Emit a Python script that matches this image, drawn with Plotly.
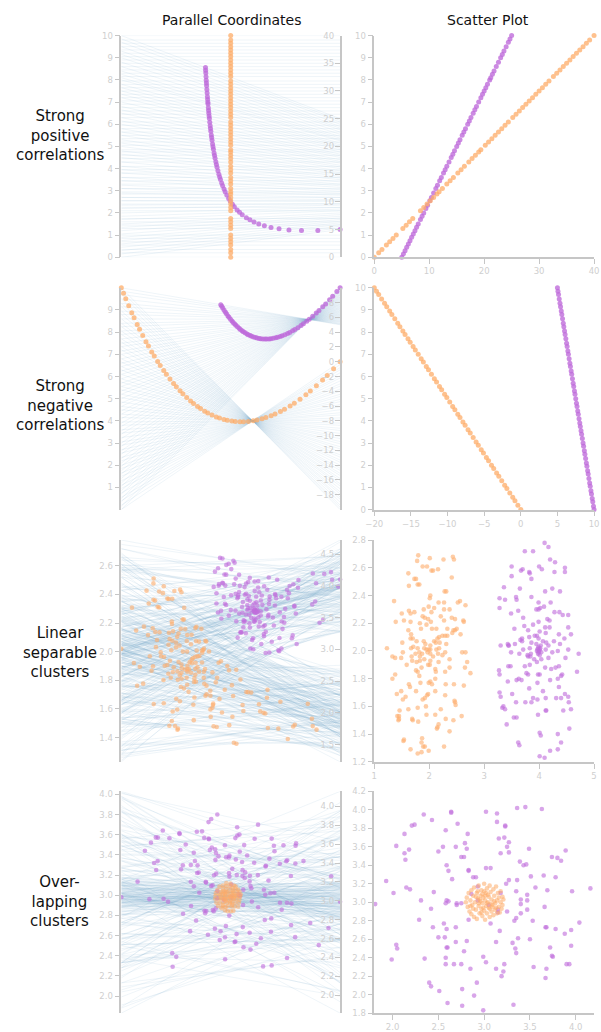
import plotly.graph_objects as go

W, H = 601, 1032

# ---------------- data (x, y) per series ----------------
pos_orange = [(0.0, 0.0), (0.8, 0.2), (1.4, 0.35), (2.2, 0.55), (2.8, 0.7), (3.4, 0.85), (4.0, 1.0),
              (5.2, 1.3), (5.8, 1.45), (6.4, 1.6), (7.0, 1.75), (8.4, 2.1), (9.0, 2.25), (9.6, 2.4),
              (10.2, 2.55), (10.8, 2.7), (11.4, 2.85), (11.8, 2.95), (12.4, 3.1), (13.2, 3.3), (13.8, 3.45),
              (14.4, 3.6), (15.2, 3.8), (15.8, 3.95), (16.4, 4.1), (17.2, 4.3), (17.8, 4.45), (18.4, 4.6),
              (19.0, 4.75), (19.4, 4.85), (20.2, 5.05), (20.8, 5.2), (21.4, 5.35), (22.0, 5.5), (22.6, 5.65),
              (23.2, 5.8), (23.8, 5.95), (24.4, 6.1), (25.2, 6.3), (25.8, 6.45), (26.4, 6.6), (27.0, 6.75),
              (27.6, 6.9), (28.2, 7.05), (28.8, 7.2), (29.4, 7.35), (30.0, 7.5), (30.6, 7.65), (31.2, 7.8),
              (31.8, 7.95), (32.6, 8.15), (33.2, 8.3), (33.8, 8.45), (34.4, 8.6), (35.0, 8.75), (35.6, 8.9),
              (36.2, 9.05), (36.8, 9.2), (37.4, 9.35), (38.0, 9.5), (38.6, 9.65), (39.2, 9.8), (40.0, 10.0)]
pos_purple = [(5.0, 0.0), (5.3, 0.15), (5.6, 0.3), (5.9, 0.45), (6.2, 0.6), (6.5, 0.75), (6.8, 0.9),
              (7.1, 1.05), (7.4, 1.2), (7.7, 1.35), (8.0, 1.5), (8.4, 1.7), (8.7, 1.85), (9.0, 2.0),
              (9.4, 2.2), (9.7, 2.35), (10.1, 2.55), (10.4, 2.7), (10.8, 2.9), (11.2, 3.1), (11.5, 3.25),
              (11.9, 3.45), (12.2, 3.6), (12.6, 3.8), (12.9, 3.95), (13.2, 4.1), (13.6, 4.3), (14.0, 4.5),
              (14.3, 4.65), (14.6, 4.8), (15.0, 5.0), (15.3, 5.15), (15.6, 5.3), (16.0, 5.5), (16.3, 5.65),
              (16.6, 5.8), (17.0, 6.0), (17.3, 6.15), (17.6, 6.3), (18.0, 6.5), (18.3, 6.65), (18.6, 6.8),
              (19.0, 7.0), (19.4, 7.2), (19.7, 7.35), (20.0, 7.5), (20.3, 7.65), (20.6, 7.8), (21.0, 8.0),
              (21.2, 8.1), (21.5, 8.25), (21.8, 8.4), (22.2, 8.6), (22.6, 8.8), (23.0, 9.0), (23.3, 9.15),
              (23.6, 9.3), (24.0, 9.5), (24.4, 9.7), (24.7, 9.85), (25.0, 10.0)]

neg_orange = [(0.0, 0.0), (-0.4, 0.2), (-0.8, 0.4), (-1.1, 0.55), (-1.5, 0.75), (-1.9, 0.95), (-2.2, 1.1),
              (-2.6, 1.3), (-3.0, 1.5), (-3.3, 1.65), (-3.7, 1.85), (-4.0, 2.0), (-4.4, 2.2), (-4.7, 2.35),
              (-5.1, 2.55), (-5.4, 2.7), (-5.8, 2.9), (-6.1, 3.05), (-6.5, 3.25), (-6.9, 3.45), (-7.2, 3.6),
              (-7.6, 3.8), (-7.9, 3.95), (-8.3, 4.15), (-8.6, 4.3), (-9.0, 4.5), (-9.3, 4.65), (-9.7, 4.85),
              (-10.1, 5.05), (-10.4, 5.2), (-10.8, 5.4), (-11.1, 5.55), (-11.5, 5.75), (-11.8, 5.9),
              (-12.2, 6.1), (-12.6, 6.3), (-12.9, 6.45), (-13.3, 6.65), (-13.6, 6.8), (-14.0, 7.0),
              (-14.4, 7.2), (-14.7, 7.35), (-15.1, 7.55), (-15.4, 7.7), (-15.8, 7.9), (-16.1, 8.05),
              (-16.5, 8.25), (-16.8, 8.4), (-17.2, 8.6), (-17.6, 8.8), (-17.9, 8.95), (-18.3, 9.15),
              (-18.6, 9.3), (-19.0, 9.5), (-19.4, 9.7), (-19.7, 9.85), (-20.0, 10.0)]
neg_purple = [(10.0, 0.0), (9.925, 0.15), (9.825, 0.35), (9.75, 0.5), (9.65, 0.7), (9.575, 0.85),
              (9.475, 1.05), (9.4, 1.2), (9.3, 1.4), (9.2, 1.6), (9.125, 1.75), (9.025, 1.95), (8.95, 2.1),
              (8.85, 2.3), (8.75, 2.5), (8.675, 2.65), (8.575, 2.85), (8.5, 3.0), (8.4, 3.2), (8.3, 3.4),
              (8.225, 3.55), (8.125, 3.75), (8.05, 3.9), (7.95, 4.1), (7.85, 4.3), (7.775, 4.45),
              (7.675, 4.65), (7.6, 4.8), (7.5, 5.0), (7.4, 5.2), (7.325, 5.35), (7.225, 5.55), (7.15, 5.7),
              (7.05, 5.9), (6.95, 6.1), (6.875, 6.25), (6.775, 6.45), (6.7, 6.6), (6.6, 6.8), (6.5, 7.0),
              (6.425, 7.15), (6.325, 7.35), (6.25, 7.5), (6.15, 7.7), (6.05, 7.9), (5.975, 8.05),
              (5.875, 8.25), (5.8, 8.4), (5.7, 8.6), (5.6, 8.8), (5.525, 8.95), (5.425, 9.15), (5.35, 9.3),
              (5.25, 9.5), (5.15, 9.7), (5.075, 9.85), (5.0, 10.0)]

lin_orange = [(1.80, 2.69), (2.01, 2.67), (2.43, 2.68), (2.45, 2.66), (1.78, 2.65), (2.26, 2.66), (1.88, 2.61),
              (1.96, 2.61), (2.04, 2.58), (2.07, 2.58), (2.16, 2.59), (1.62, 2.56), (1.73, 2.52), (1.76, 2.52),
              (2.41, 2.53), (1.63, 2.47), (1.79, 2.48), (1.82, 2.48), (2.28, 2.43), (2.31, 2.43), (2.02, 2.40),
              (2.01, 2.38), (1.36, 2.36), (2.56, 2.36), (2.52, 2.35), (2.17, 2.35), (2.27, 2.35), (1.99, 2.32),
              (2.66, 2.33), (2.09, 2.31), (2.37, 2.30), (1.90, 2.30), (2.27, 2.30), (1.63, 2.29), (1.73, 2.28),
              (2.04, 2.28), (1.88, 2.25), (2.21, 2.25), (1.50, 2.27), (1.92, 2.24), (1.98, 2.23), (2.41, 2.24),
              (1.39, 2.21), (1.54, 2.22), (1.66, 2.21), (1.66, 2.27), (1.83, 2.20), (2.03, 2.21), (2.27, 2.22),
              (2.47, 2.23), (2.62, 2.22), (2.63, 2.21), (1.95, 2.19), (1.85, 2.16), (2.05, 2.16), (2.13, 2.16),
              (2.33, 2.16), (2.50, 2.16), (2.47, 2.15), (1.62, 2.15), (1.67, 2.12), (2.15, 2.09), (2.18, 2.10),
              (2.24, 2.11), (2.29, 2.11), (2.33, 2.11), (2.42, 2.13), (2.44, 2.15), (2.57, 2.12), (1.66, 2.09),
              (1.70, 2.09), (1.51, 2.06), (1.77, 2.07), (1.90, 2.07), (2.09, 2.07), (2.12, 2.06), (1.93, 2.05),
              (2.31, 2.05), (2.19, 2.06), (2.02, 2.04), (1.23, 2.02), (1.67, 2.02), (1.71, 2.03), (1.79, 2.02),
              (1.91, 2.02), (1.95, 2.01), (1.99, 2.01), (2.02, 2.01), (2.13, 2.01), (2.18, 2.02), (1.82, 1.99),
              (1.75, 1.98), (1.52, 1.99), (1.87, 1.98), (1.97, 1.99), (2.02, 1.98), (2.16, 1.98), (2.29, 1.99),
              (2.60, 1.99), (2.66, 1.99), (1.33, 1.96), (1.38, 1.95), (1.68, 1.96), (1.83, 1.96), (2.07, 1.96),
              (2.24, 1.97), (1.49, 1.95), (1.69, 1.93), (1.83, 1.93), (1.91, 1.94), (2.02, 1.93), (2.37, 1.94),
              (2.17, 1.92), (2.69, 1.92), (1.77, 1.92), (1.98, 1.90), (2.01, 1.90), (1.59, 1.90), (1.86, 1.88),
              (2.65, 1.88), (1.76, 1.86), (1.79, 1.85), (2.11, 1.87), (2.12, 1.85), (2.37, 1.88), (2.75, 1.84),
              (2.29, 1.85), (1.38, 1.83), (1.82, 1.82), (2.11, 1.80), (1.33, 1.80), (2.02, 1.78), (2.05, 1.76),
              (2.30, 1.76), (2.45, 1.76), (2.63, 1.75), (1.84, 1.77), (1.63, 1.76), (1.99, 1.77), (1.65, 1.74),
              (1.49, 1.71), (1.76, 1.71), (2.11, 1.71), (1.96, 1.68), (1.98, 1.69), (1.41, 1.69), (2.29, 1.68),
              (1.92, 1.66), (1.88, 1.65), (1.57, 1.67), (1.52, 1.65), (2.46, 1.64), (2.47, 1.63), (2.48, 1.61),
              (1.94, 1.60), (1.62, 1.58), (1.79, 1.59), (2.21, 1.58), (1.46, 1.57), (1.42, 1.53), (1.45, 1.51),
              (1.44, 1.50), (1.45, 1.53), (2.11, 1.54), (1.95, 1.54), (2.59, 1.53), (2.30, 1.51), (2.44, 1.50),
              (1.69, 1.51), (1.70, 1.50), (1.80, 1.49), (2.17, 1.47), (2.15, 1.45), (2.14, 1.44), (2.37, 1.42),
              (1.87, 1.37), (1.54, 1.36), (1.86, 1.34), (1.89, 1.31), (1.92, 1.31), (2.27, 1.31), (1.66, 1.29),
              (1.99, 1.28), (1.79, 1.26), (1.86, 1.27), (1.53, 1.35)]
lin_purple = [(4.10, 2.78), (4.17, 2.75), (3.74, 2.72), (3.89, 2.72), (4.20, 2.66), (4.29, 2.64), (3.50, 2.61),
              (3.67, 2.58), (3.70, 2.59), (4.00, 2.61), (4.05, 2.59), (3.82, 2.57), (3.83, 2.56), (4.28, 2.57),
              (4.47, 2.60), (4.47, 2.57), (3.50, 2.54), (3.86, 2.52), (3.36, 2.46), (4.24, 2.45), (4.11, 2.43),
              (4.38, 2.43), (3.65, 2.45), (3.28, 2.38), (3.38, 2.37), (3.58, 2.39), (3.59, 2.37), (3.86, 2.39),
              (3.99, 2.35), (3.95, 2.30), (3.99, 2.30), (4.02, 2.31), (4.09, 2.32), (4.21, 2.35), (3.28, 2.31),
              (3.62, 2.29), (4.28, 2.28), (4.37, 2.28), (4.43, 2.26), (4.53, 2.26), (3.49, 2.27), (3.71, 2.24),
              (4.15, 2.23), (4.19, 2.22), (3.99, 2.21), (3.89, 2.19), (4.11, 2.17), (4.19, 2.17), (3.55, 2.16),
              (3.73, 2.18), (3.80, 2.15), (4.01, 2.14), (3.69, 2.09), (3.82, 2.10), (3.92, 2.11), (3.96, 2.11),
              (4.12, 2.13), (4.36, 2.12), (4.58, 2.12), (4.53, 2.17), (3.66, 2.08), (3.69, 2.07), (3.99, 2.09),
              (4.07, 2.07), (4.13, 2.06), (4.27, 2.07), (4.46, 2.09), (3.43, 2.05), (3.44, 2.04), (3.56, 2.05),
              (3.86, 2.06), (3.95, 2.05), (4.17, 2.04), (4.38, 2.05), (3.30, 2.04), (3.45, 2.04), (3.71, 2.01),
              (3.83, 2.02), (3.98, 2.02), (3.99, 2.03), (4.01, 2.01), (3.96, 2.00), (4.04, 1.99), (3.98, 1.98),
              (4.00, 2.00), (4.02, 2.02), (3.97, 2.01), (4.01, 1.97), (3.99, 1.99), (4.03, 2.04),
              (4.12, 2.01), (4.24, 1.99), (4.34, 2.00), (4.53, 2.01), (4.72, 1.98), (3.49, 1.99), (3.64, 1.98),
              (3.79, 1.97), (3.85, 1.98), (3.91, 1.94), (4.04, 1.94), (4.17, 1.95), (4.48, 1.95), (3.80, 1.96),
              (3.84, 1.96), (3.44, 1.89), (3.48, 1.89), (3.27, 1.86), (3.74, 1.89), (3.83, 1.90), (3.96, 1.92),
              (4.11, 1.88), (4.22, 1.87), (4.30, 1.88), (4.36, 1.89), (4.42, 1.83), (4.40, 1.82), (4.69, 1.85),
              (3.28, 1.83), (3.77, 1.84), (3.80, 1.83), (3.98, 1.83), (4.01, 1.83), (3.59, 1.79), (3.63, 1.80),
              (3.68, 1.79), (4.20, 1.79), (4.34, 1.80), (3.43, 1.78), (3.97, 1.77), (4.36, 1.74), (3.82, 1.73),
              (4.07, 1.71), (4.47, 1.69), (4.40, 1.66), (4.53, 1.67), (3.28, 1.70), (3.30, 1.67), (3.51, 1.69),
              (3.89, 1.66), (3.97, 1.65), (4.12, 1.66), (4.31, 1.66), (3.75, 1.63), (3.86, 1.63), (4.54, 1.63),
              (3.58, 1.63), (4.13, 1.57), (4.12, 1.57), (4.44, 1.57), (3.98, 1.54), (3.35, 1.60), (3.38, 1.58),
              (3.33, 1.59), (4.58, 1.58), (3.54, 1.52), (3.59, 1.52), (3.41, 1.47), (4.55, 1.44), (4.01, 1.41),
              (4.03, 1.39), (4.34, 1.40), (4.40, 1.34), (3.62, 1.34), (3.64, 1.32), (4.20, 1.28), (4.34, 1.29),
              (4.01, 1.24), (4.10, 1.23)]

ovl_purple = [(1.81, 2.98), (1.93, 3.23), (1.99, 2.38), (2.01, 3.10), (2.04, 3.61), (2.04, 2.54), (2.05, 2.50),
              (2.13, 3.74), (2.13, 3.53), (2.14, 3.46), (2.15, 3.16), (2.18, 3.57), (2.19, 3.14), (2.21, 3.83),
              (2.24, 3.84), (2.31, 3.02), (2.29, 2.81), (2.34, 3.95), (2.35, 2.39), (2.40, 2.13), (2.42, 2.09),
              (2.42, 2.93), (2.43, 3.89), (2.44, 2.73), (2.45, 3.11), (2.50, 3.55), (2.50, 2.62), (2.51, 2.04),
              (2.55, 3.60), (2.56, 2.77), (2.57, 2.62), (2.58, 3.78), (2.58, 2.99), (2.58, 2.40), (2.58, 2.33),
              (2.59, 2.71), (2.59, 2.51), (2.60, 1.91), (2.60, 2.51), (2.59, 3.02), (2.61, 3.01), (2.61, 3.34),
              (2.64, 3.98), (2.64, 3.97), (2.65, 3.25), (2.67, 2.33), (2.69, 3.60), (2.69, 2.73), (2.69, 2.57),
              (2.70, 2.97), (2.70, 2.99), (2.71, 3.85), (2.75, 3.49), (2.75, 2.33), (2.75, 2.99), (2.76, 2.06),
              (2.76, 1.88), (2.78, 2.47), (2.78, 3.49), (2.79, 3.64), (2.81, 2.58), (2.81, 3.58), (2.82, 3.74),
              (2.83, 3.35), (2.83, 3.34), (2.83, 2.81), (2.85, 2.28), (2.88, 3.27), (2.89, 1.99), (2.91, 3.27),
              (2.92, 2.13), (2.93, 3.17), (2.99, 2.41), (2.99, 1.83), (3.02, 2.35), (3.02, 3.37), (3.02, 3.98),
              (3.05, 2.97), (3.07, 3.37), (3.07, 2.77), (3.13, 2.57), (3.13, 2.28), (3.14, 3.96), (3.14, 3.87),
              (3.16, 3.69), (3.17, 2.69), (3.18, 3.10), (3.18, 3.53), (3.19, 2.20), (3.21, 2.25), (3.22, 3.70),
              (3.22, 2.33), (3.23, 3.82), (3.23, 3.83), (3.24, 3.20), (3.25, 2.90), (3.25, 3.60), (3.27, 3.54),
              (3.27, 3.24), (3.27, 3.65), (3.31, 2.56), (3.32, 1.89), (3.33, 2.80), (3.34, 2.50), (3.35, 2.83),
              (3.35, 2.45), (3.35, 3.12), (3.36, 4.02), (3.36, 3.24), (3.37, 2.61), (3.39, 3.44), (3.40, 2.88),
              (3.40, 2.98), (3.40, 3.03), (3.43, 3.40), (3.45, 4.03), (3.46, 3.41), (3.47, 3.02), (3.47, 2.92),
              (3.47, 3.08), (3.49, 3.58), (3.50, 2.60), (3.51, 3.28), (3.53, 2.80), (3.54, 2.30), (3.56, 3.16),
              (3.63, 4.01), (3.65, 3.29), (3.66, 2.95), (3.67, 2.73), (3.68, 2.73), (3.68, 2.28), (3.69, 3.13),
              (3.67, 2.18), (3.72, 2.51), (3.74, 2.42), (3.74, 3.49), (3.75, 2.41), (3.78, 3.27), (3.78, 2.71),
              (3.80, 3.48), (3.84, 3.45), (3.88, 2.66), (3.89, 3.56), (3.90, 2.33), (3.93, 2.33), (3.95, 2.70),
              (3.95, 2.53), (3.96, 3.12), (4.04, 2.78), (4.16, 3.15), (2.59, 3.40), (2.86, 3.09), (2.93, 3.02),
              (3.15, 2.89), (3.15, 2.92)]
ovl_orange = [(2.80, 3.00), (2.81, 3.05), (2.82, 2.95), (2.83, 3.10), (2.84, 2.90), (2.85, 3.02), (2.86, 3.13),
              (2.86, 2.87), (2.87, 2.97), (2.88, 3.07), (2.89, 2.84), (2.89, 3.16), (2.90, 3.00), (2.91, 2.92),
              (2.92, 3.10), (2.92, 2.82), (2.93, 3.04), (2.94, 2.96), (2.94, 3.18), (2.95, 2.88), (2.96, 3.07),
              (2.96, 3.01), (2.97, 2.93), (2.97, 3.13), (2.98, 2.85), (2.98, 2.99), (2.99, 3.05), (3.00, 2.91),
              (3.00, 3.20), (3.01, 3.02), (3.01, 2.81), (3.02, 2.96), (3.02, 3.10), (3.03, 2.88), (3.03, 3.15),
              (3.04, 3.00), (3.05, 2.94), (3.05, 3.06), (3.06, 2.84), (3.06, 3.18), (3.07, 2.98), (3.07, 3.11),
              (3.08, 2.90), (3.08, 3.03), (3.09, 2.95), (3.10, 3.14), (3.10, 2.86), (3.11, 3.07), (3.12, 2.99),
              (3.12, 2.92), (3.13, 3.17), (3.14, 3.02), (3.14, 2.88), (3.15, 3.10), (3.16, 2.95), (3.16, 3.05),
              (3.17, 2.89), (3.18, 3.12), (3.18, 3.00), (3.19, 2.93), (3.20, 3.06), (3.20, 2.97), (3.21, 3.03),
              (2.88, 2.93), (2.93, 3.12), (2.99, 2.94), (3.04, 3.08), (3.09, 2.97), (2.95, 3.03), (3.01, 3.07),
              (2.91, 3.06), (3.06, 2.93), (3.11, 3.01), (2.97, 2.89), (3.03, 2.99), (2.85, 2.96), (3.13, 2.94),
              (2.94, 2.99), (3.00, 3.12), (2.98, 3.09)]

row_labels = ["Strong<br>positive<br>correlations", "Strong<br>negative<br>correlations",
              "Linear<br>separable<br>clusters", "Over-<br>lapping<br>clusters"]
column_titles = ["Parallel Coordinates", "Scatter Plot"]

# axis ranges / ticks of the scatter plots
scatter_x_range = [[0, 40], [-20, 10], [1, 5], [1.8, 4.2]]
scatter_y_range = [[0, 10], [0, 10], [1.2, 2.8], [1.8, 4.2]]
scatter_x_ticks = [[0, 10, 20, 30, 40], [-20, -15, -10, -5, 0, 5, 10], [1, 2, 3, 4, 5],
                   [2.0, 2.5, 3.0, 3.5, 4.0]]
scatter_y_ticks = [list(range(0, 11)), list(range(0, 11)),
                   [1.2, 1.4, 1.6, 1.8, 2.0, 2.2, 2.4, 2.6, 2.8],
                   [1.8, 2.0, 2.2, 2.4, 2.6, 2.8, 3.0, 3.2, 3.4, 3.6, 3.8, 4.0, 4.2]]
# ticks on the parallel-coordinate axes (left = y variable, right = x variable)
pc_left_ticks = [list(range(0, 11)), list(range(1, 10)),
                 [1.4, 1.6, 1.8, 2.0, 2.2, 2.4, 2.6],
                 [2.0, 2.2, 2.4, 2.6, 2.8, 3.0, 3.2, 3.4, 3.6, 3.8, 4.0]]
pc_right_ticks = [[0, 5, 10, 15, 20, 25, 30, 35, 40], list(range(-18, 10, 2)),
                  [1.5, 2.0, 2.5, 3.0, 3.5, 4.0, 4.5],
                  [2.0, 2.2, 2.4, 2.6, 2.8, 3.0, 3.2, 3.4, 3.6, 3.8, 4.0]]
# tick label formats: (pc left, pc right, scatter x, scatter y)
tick_formats = [("d", "d", "d", "d"), ("d", "d", "d", "d"),
                (".1f", ".1f", "d", ".1f"), (".1f", ".1f", ".1f", ".1f")]

series = [(pos_orange, pos_purple), (neg_orange, neg_purple),
          (lin_orange, lin_purple), (ovl_orange, ovl_purple)]

# ---------------- styling ----------------
ORANGE = ["rgba(253,172,104,0.75)", "rgba(253,172,104,0.75)",
          "rgba(253,175,112,0.62)", "rgba(253,172,104,0.55)"]
PURPLE = ["rgba(190,105,218,0.78)", "rgba(190,105,218,0.78)",
          "rgba(192,110,220,0.62)", "rgba(192,110,220,0.62)"]
LINE = "rgba(105,168,200,0.14)"
AXIS = "#c6c6c6"
TICKFONT = dict(family="DejaVu Sans", size=8.5, color="#cfcfcf")

PC_X = [115 / W, 339 / W]
SC_X = [374 / W, 599 / W]
ROW_TOP = [31, 287, 543, 798]
ROW_H = 225
LABEL_Y = [132, 406, 657, 910]
LABEL_X = 52


def ax_name(kind, k):
    return kind + "axis" + ("" if k == 1 else str(k))


fig = go.Figure()
layout = {}

for i, (orange, purple) in enumerate(series):
    top = ROW_TOP[i]
    dom_y = [1 - (top + ROW_H) / H, 1 - top / H]
    pk, sk, rk = 2 * i + 1, 2 * i + 2, 9 + i
    msize = 5 if i < 2 else 4.6

    pts = orange + purple
    xs = [p[0] for p in pts]
    ys = [p[1] for p in pts]
    xmin, xmax = min(xs), max(xs)
    ymin, ymax = min(ys), max(ys)

    def to_left(xv):
        return ymin + (xv - xmin) / (xmax - xmin) * (ymax - ymin)

    # polylines between the two parallel axes
    lx, ly = [], []
    for (xv, yv) in pts:
        lx += [0, 1, None]
        ly += [yv, to_left(xv), None]
    fig.add_trace(go.Scatter(x=lx, y=ly, mode="lines", line=dict(color=LINE, width=0.8),
                             xaxis=f"x{pk}", yaxis=f"y{pk}", hoverinfo="skip", showlegend=False))

    # one dot per record placed along its own polyline
    def pc_dots(group):
        dx, dy = [], []
        for (xv, yv) in group:
            nx = (xv - xmin) / (xmax - xmin)
            ny = (yv - ymin) / (ymax - ymin)
            s = nx + ny
            if s == 0:
                t, v = 0.5, 0.0
            else:
                t, v = nx / s, (nx * nx + ny * ny) / s
            dx.append(t)
            dy.append(ymin + v * (ymax - ymin))
        return dx, dy

    for group, col in ((purple, PURPLE[i]), (orange, ORANGE[i])):
        dx, dy = pc_dots(group)
        fig.add_trace(go.Scatter(x=dx, y=dy, mode="markers", cliponaxis=False,
                                 marker=dict(size=msize, color=col, line=dict(width=0)),
                                 xaxis=f"x{pk}", yaxis=f"y{pk}", hoverinfo="skip", showlegend=False))
        fig.add_trace(go.Scatter(x=[p[0] for p in group], y=[p[1] for p in group], mode="markers",
                                 cliponaxis=False, marker=dict(size=msize, color=col, line=dict(width=0)),
                                 xaxis=f"x{sk}", yaxis=f"y{sk}", hoverinfo="skip", showlegend=False))

    # anchor trace for the right-hand parallel axis
    fig.add_trace(go.Scatter(x=[0.5], y=[xmin], mode="markers", marker=dict(opacity=0),
                             xaxis=f"x{pk}", yaxis=f"y{rk}", hoverinfo="skip", showlegend=False))

    common = dict(showgrid=False, zeroline=False, showline=True, linecolor=AXIS, linewidth=1.5,
                  tickcolor=AXIS, ticklen=5, tickwidth=1, tickfont=TICKFONT, fixedrange=True,
                  ticklabeloverflow="allow")
    fl, fr, fx, fy = tick_formats[i]

    layout[ax_name("x", pk)] = dict(domain=PC_X, range=[0, 1], visible=False, anchor=f"y{pk}")
    layout[ax_name("y", pk)] = dict(domain=dom_y, range=[ymin, ymax], anchor=f"x{pk}",
                                    tickmode="array", tickvals=pc_left_ticks[i], ticks="outside",
                                    tickformat=fl, **common)
    layout[ax_name("y", rk)] = dict(domain=dom_y, range=[xmin, xmax], anchor=f"x{pk}",
                                    overlaying=f"y{pk}", side="right", tickmode="array",
                                    tickvals=pc_right_ticks[i], ticks="inside",
                                    ticklabelposition="inside", tickformat=fr, **common)
    layout[ax_name("x", sk)] = dict(domain=SC_X, range=scatter_x_range[i], anchor=f"y{sk}",
                                    tickmode="array", tickvals=scatter_x_ticks[i], ticks="outside",
                                    tickformat=fx, **common)
    layout[ax_name("y", sk)] = dict(domain=dom_y, range=scatter_y_range[i], anchor=f"x{sk}",
                                    tickmode="array", tickvals=scatter_y_ticks[i], ticks="outside",
                                    tickformat=fy, **common)

annotations = []
for i, lab in enumerate(row_labels):
    annotations.append(dict(text=lab, x=LABEL_X / W, y=1 - LABEL_Y[i] / H, xref="paper", yref="paper",
                            showarrow=False, align="center", xanchor="center", yanchor="middle",
                            font=dict(family="DejaVu Sans", size=15, color="#111111")))
annotations.append(dict(text=column_titles[0], x=228 / W, y=1 - 15 / H, xref="paper", yref="paper",
                        showarrow=False, xanchor="center", yanchor="middle",
                        font=dict(family="DejaVu Sans", size=14, color="#111111")))
annotations.append(dict(text=column_titles[1], x=490 / W, y=1 - 15 / H, xref="paper", yref="paper",
                        showarrow=False, xanchor="center", yanchor="middle",
                        font=dict(family="DejaVu Sans", size=14, color="#111111")))

fig.update_layout(width=W, height=H, margin=dict(l=0, r=0, t=0, b=0),
                  paper_bgcolor="white", plot_bgcolor="white", showlegend=False,
                  annotations=annotations, **layout)

fig.write_html("out.html")
